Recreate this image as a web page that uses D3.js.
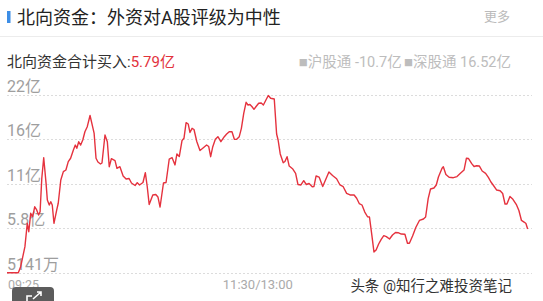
<!DOCTYPE html>
<html><head><meta charset="utf-8">
<script src="https://cdn.jsdelivr.net/npm/d3@7"></script>
<style>
html,body{margin:0;padding:0;background:#fff;}
svg{display:block;font-family:Roboto,"Noto Sans CJK SC",sans-serif;}
</style></head>
<body>
<svg id="c" width="543" height="301"></svg>
<script>
// minutes since 09:25 (lunch break removed; 11:30/13:00 = 125)
const times = [0,5.3,6.4,8.4,9.5,10.2,11.1,12.0,13.0,13.9,14.8,15.5,16.3,17.2,18.3,18.9,19.8,20.5,21.2,22.0,23.3,24.0,25.2,26.4,27.6,28.7,29.8,31.1,32.0,32.7,33.6,34.5,35.5,36.5,37.6,38.9,40.1,40.8,41.7,42.6,43.8,44.5,45.9,47.0,47.9,48.9,50.6,51.5,52.9,54.4,55.8,57.2,58.3,60.0,61.0,62.1,63.7,64.8,65.7,66.6,68.3,69.7,70.7,71.7,73.3,74.5,76.0,77.3,78.7,79.6,80.7,82.0,82.9,83.9,84.9,85.7,86.7,87.6,88.9,90.4,91.7,93.5,94.5,95.4,96.4,97.6,98.8,100.2,101.8,102.9,104.1,105.4,106.5,107.6,108.8,109.8,110.9,112.0,112.9,113.8,114.8,115.7,116.6,117.9,119.1,120.1,121.3,122.4,123.5,125.2,126.3,127.0,128.0,129.4,130.2,131.2,132.2,133.9,135.2,136.3,137.7,139.0,140.2,141.5,143.0,143.8,144.8,146.2,147.9,149.0,150.8,152.5,154.4,156.0,157.5,159.1,160.7,162.6,163.8,165.0,166.3,167.6,168.9,169.8,171.0,171.9,172.9,174.1,175.3,176.5,177.7,179.2,180.6,182.0,183.2,184.7,186.4,187.6,188.5,190.0,191.5,193.2,195.1,196.1,197.3,198.4,200.0,201.1,202.1,203.8,204.4,205.6,207.1,209.1,210.8,212.4,214.1,215.2,216.2,217.7,218.8,220.0,221.3,222.6,224.2,225.5,226.7,227.9,229.4,231.0,232.2,233.3,234.2,235.6,237.0,238.7,239.8,241.0,242.4,243.1,243.9];
// northbound net buy, 亿元
const values = [0.51,0.51,1.24,3.66,6.49,5.47,7.70,7.28,8.49,8.10,7.49,7.89,11.93,14.42,11.32,9.30,8.70,9.10,8.70,6.49,8.10,8.91,11.72,12.73,12.93,13.94,14.35,15.35,15.95,15.56,16.35,15.95,16.56,17.56,18.17,19.52,18.17,17.40,14.35,13.90,13.66,13.78,17.16,16.35,13.33,14.30,14.06,13.14,13.33,12.21,11.84,11.90,11.36,11.06,11.40,11.12,11.42,12.61,10.91,8.76,9.91,9.97,9.67,8.46,11.36,11.42,14.26,14.44,13.54,14.87,14.56,16.50,16.76,18.65,18.49,17.47,17.97,17.83,16.38,15.29,15.56,15.95,15.77,14.54,15.75,16.64,16.96,16.35,16.96,17.28,17.56,17.56,16.64,16.64,16.96,17.97,19.79,21.12,20.79,20.85,20.58,20.27,20.58,21.00,21.03,20.79,21.40,21.94,21.60,21.51,17.28,16.56,14.87,13.81,13.96,14.54,13.41,13.05,12.53,11.18,11.12,11.64,11.18,11.30,10.91,10.94,12.21,12.08,10.94,11.60,12.69,12.27,11.87,11.12,10.91,10.11,9.91,9.91,9.51,8.88,8.70,7.85,7.28,7.25,4.87,3.02,3.26,3.98,4.55,4.99,4.87,4.59,5.07,5.37,5.35,5.19,5.16,4.07,4.07,4.95,5.98,6.83,7.01,7.25,9.48,10.63,10.75,11.12,12.08,13.14,13.32,12.39,12.05,12.00,12.14,12.53,12.93,14.35,14.32,13.71,13.35,13.44,13.41,12.81,12.53,12.05,11.48,11.06,10.51,10.43,10.09,8.82,8.82,9.73,9.39,8.70,8.03,6.83,6.61,6.46,5.79];
const yTickValues = [0.5141, 5.886, 11.257, 16.629, 22];
const yTickLabels = ["5141万", "5.8亿", "11亿", "16亿", "22亿"];
const xTickValues = [0, 125];
const xTickLabels = ["09:25", "11:30/13:00"];
const title = "北向资金：外资对A股评级为中性";
const totalLabel = "北向资金合计买入:";
const totalValue = "5.79亿";
const legendNames = ["沪股通", "深股通"];
const legendValues = ["-10.7亿", "16.52亿"];

const svg = d3.select("#c");
const x = d3.scaleLinear().domain([0, 245]).range([7, 530]);
const y = d3.scaleLinear().domain([0.5141, 22]).range([272.7, 95]);

// header
svg.append("rect").attr("x", 7).attr("y", 11).attr("width", 3.5).attr("height", 12).attr("fill", "#3d8ee6");
svg.append("text").attr("x", 17).attr("y", 24).attr("font-size", 18).attr("fill", "#222").text(title);
svg.append("text").attr("x", 510).attr("y", 21).attr("text-anchor", "end").attr("font-size", 13).attr("fill", "#bbb").text("更多");
svg.append("line").attr("x1", 0).attr("x2", 543).attr("y1", 36.5).attr("y2", 36.5).attr("stroke", "#ececec");

// subheader
const st = svg.append("text").attr("x", 7).attr("y", 67).attr("font-size", 15).attr("fill", "#333");
st.append("tspan").text(totalLabel);
st.append("tspan").attr("fill", "#e2323c").text(totalValue);
const lg = svg.append("text").attr("x", 511).attr("y", 67).attr("text-anchor", "end").attr("font-size", 14.5).attr("fill", "#bdbdbd");
legendNames.forEach((n, i) => {
  lg.append("tspan").attr("font-size", 9).attr("dy", -1.5).text((i ? "\u00a0" : "") + "■");
  lg.append("tspan").attr("dy", 1.5).text(n + " " + legendValues[i]);
});

// grid
svg.append("g").selectAll("line").data(yTickValues).join("line")
  .attr("x1", 7).attr("x2", 532)
  .attr("y1", d => Math.round(y(d)) + 0.5).attr("y2", d => Math.round(y(d)) + 0.5)
  .attr("stroke", "#dcdcdc").attr("stroke-dasharray", "2,2");
svg.append("g").selectAll("text").data(yTickValues).join("text")
  .attr("x", 7).attr("y", d => y(d) - 3)
  .attr("font-size", 16).attr("fill", "#9e9e9e")
  .text((d, i) => yTickLabels[i]);

// line
svg.append("path").datum(times.map((t, i) => [t, values[i]]))
  .attr("fill", "none").attr("stroke", "#e5323e").attr("stroke-width", 1.4)
  .attr("stroke-linejoin", "round")
  .attr("d", d3.line().x(d => x(d[0])).y(d => y(d[1])));

// x labels
svg.append("text").attr("x", x(xTickValues[0]) + 1).attr("y", 289).attr("font-size", 12.5).attr("fill", "#aaa").text(xTickLabels[0]);
svg.append("text").attr("x", x(xTickValues[1]) - 16).attr("y", 289).attr("text-anchor", "middle").attr("font-size", 13).attr("fill", "#aaa").text(xTickLabels[1]);

// share button
svg.append("rect").attr("x", 12).attr("y", 287).attr("width", 42).attr("height", 24).attr("rx", 4).attr("fill", "#5c5c5c");
svg.append("path").attr("d", "M27,301 L27,296 L32,296 M37,292 L41,292 L41,296 M41,292 L33,299")
  .attr("fill", "none").attr("stroke", "#fff").attr("stroke-width", 1.6);

// watermark
svg.append("text").attr("x", 512).attr("y", 291).attr("text-anchor", "end").attr("font-size", 14.5)
  .attr("fill", "#333").attr("stroke", "#fff").attr("stroke-width", 2).attr("paint-order", "stroke")
  .text("头条 @知行之难投资笔记");
</script>
</body></html>
